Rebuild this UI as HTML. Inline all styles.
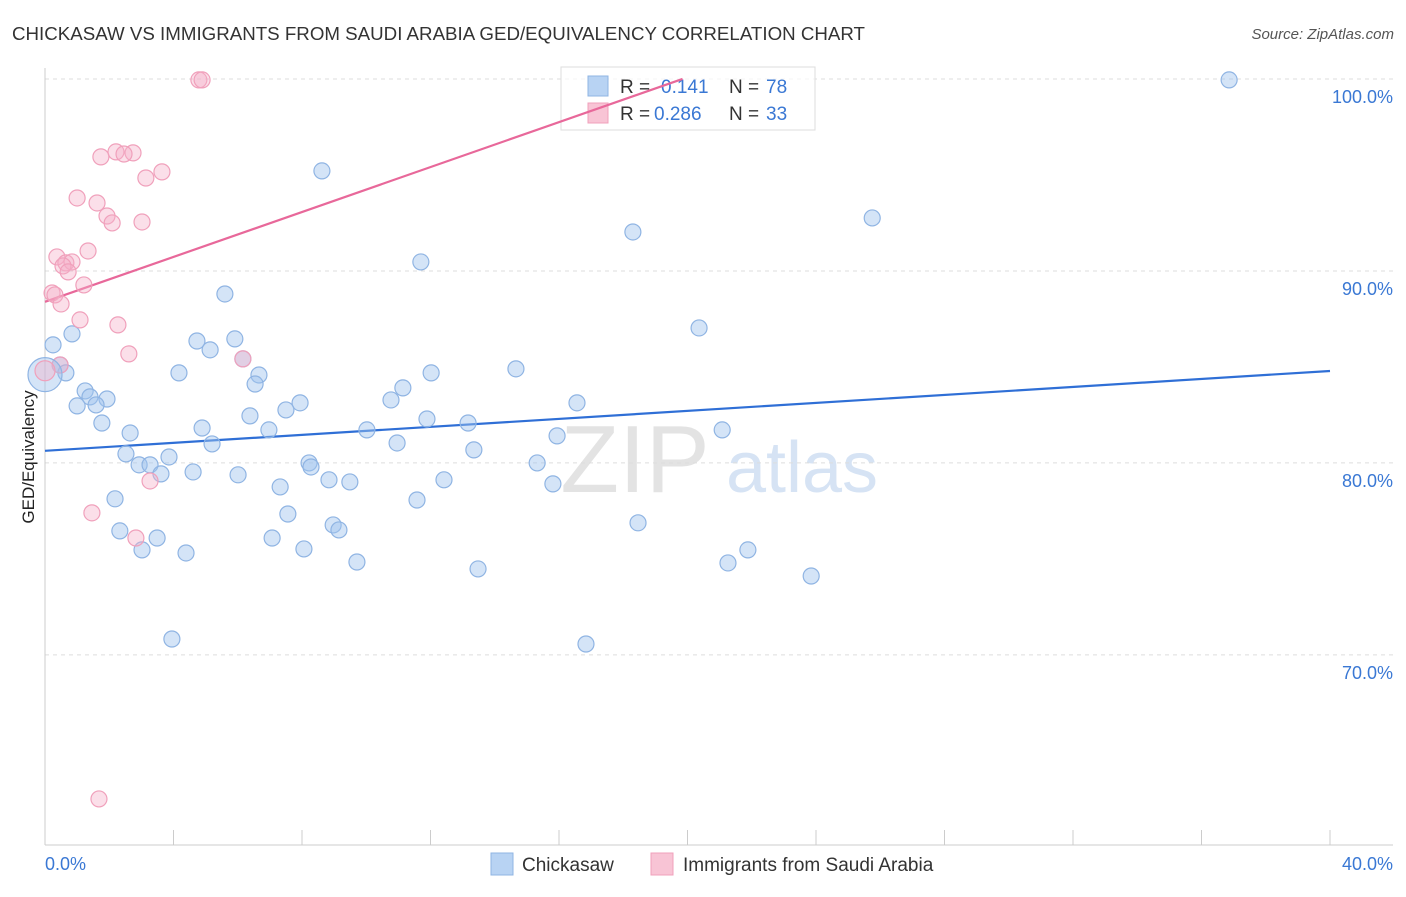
<!DOCTYPE html>
<html><head><meta charset="utf-8"><style>
body{margin:0;background:#fff;font-family:"Liberation Sans",sans-serif;}
svg text{font-family:"Liberation Sans",sans-serif;}
</style></head><body>
<svg id="chart" width="1406" height="892">
<text x="12" y="40" font-size="18" fill="#333" textLength="853" lengthAdjust="spacingAndGlyphs">CHICKASAW VS IMMIGRANTS FROM SAUDI ARABIA GED/EQUIVALENCY CORRELATION CHART</text>
<text x="1394" y="39" font-size="15" fill="#555" text-anchor="end" font-style="italic">Source: ZipAtlas.com</text>
<text transform="translate(34,457) rotate(-90)" font-size="17" fill="#222" text-anchor="middle">GED/Equivalency</text>
<g><text x="635" y="492" font-size="96" fill="#d8d8d8" text-anchor="middle" font-family="Liberation Serif" opacity="0.7">ZIP</text><text x="802" y="492" font-size="72" fill="#c5d8f0" text-anchor="middle" opacity="0.7">atlas</text></g>
<g id="grid"></g><g id="axes"></g>
<g>
<rect x="561" y="67" width="254" height="63" fill="#fff" fill-opacity="0.7" stroke="#ddd"/>
<rect x="588" y="76" width="20" height="20" fill="#b8d3f3" stroke="#8fb4e3"/>
<rect x="588" y="103" width="20" height="20" fill="#f8c4d5" stroke="#f0a0bb"/>
<text x="620" y="93" font-size="19" fill="#333">R = </text><text x="661" y="93" font-size="19" fill="#3a78d4">0.141</text>
<text x="729" y="93" font-size="19" fill="#333">N = </text><text x="766" y="93" font-size="19" fill="#3a78d4">78</text>
<text x="620" y="120" font-size="19" fill="#333">R = </text><text x="654" y="120" font-size="19" fill="#3a78d4">0.286</text>
<text x="729" y="120" font-size="19" fill="#333">N = </text><text x="766" y="120" font-size="19" fill="#3a78d4">33</text>
</g>
<g id="lines"></g><g id="pts"></g>
<g>
<rect x="491" y="853" width="22" height="22" fill="#b8d3f3" stroke="#8fb4e3"/>
<text x="522" y="871" font-size="19" fill="#333">Chickasaw</text>
<rect x="651" y="853" width="22" height="22" fill="#f8c4d5" stroke="#f0a0bb"/>
<text x="683" y="871" font-size="19" fill="#333">Immigrants from Saudi Arabia</text>
</g>
</svg>
<script>
const blueX=[36.86,8.62,25.75,18.30,11.70,5.60,20.36,.84,.25,4.73,5.91,5.14,.47,.65,4.17,6.66,6.16,14.66,12.02,11.14,6.54,1.25,1.93,1.40,1.00,1.59,7.94,7.50,10.77,16.56,6.38,11.89,13.17,1.77,4.89,6.97,10.02,2.65,21.08,15.94,10.96,5.20,13.35,2.52,3.86,2.93,3.27,8.22,8.28,15.32,4.61,3.61,6.01,8.84,9.49,12.42,7.32,15.81,2.18,11.58,7.56,18.46,8.97,9.15,2.33,3.49,7.07,3.02,4.39,8.06,21.88,21.26,9.71,13.48,23.85,3.95,16.84];
const blueY=[99.95,95.21,92.76,92.03,90.47,88.80,87.03,86.72,86.15,86.35,86.46,85.89,85.10,84.69,84.69,84.58,85.42,84.90,84.69,83.91,84.11,83.75,83.33,83.44,82.97,83.02,83.13,82.76,83.28,83.13,82.45,82.29,82.08,82.08,81.82,81.72,81.72,81.56,81.72,81.41,81.04,80.99,80.68,80.47,80.31,79.90,79.90,80.00,79.79,80.00,79.53,79.43,79.38,79.12,79.01,79.12,78.75,78.91,78.13,78.07,77.34,76.88,76.77,76.51,76.46,76.09,76.09,75.47,75.31,75.52,75.47,74.79,74.84,74.48,74.11,70.83,70.57];
const pinkX=[4.79,4.89,2.21,1.74,2.74,2.46,3.64,3.14,1.00,1.62,1.93,2.09,3.02,1.34,.37,.65,.84,.56,.72,1.21,.22,.31,.50,1.09,2.27,2.61,6.16,.47,3.27,1.46,2.83,1.68];
const pinkY=[99.95,99.95,96.20,95.94,96.15,96.09,95.16,94.84,93.80,93.54,92.86,92.50,92.55,91.04,90.73,90.42,90.47,90.26,89.95,89.27,88.85,88.75,88.28,87.45,87.19,85.68,85.42,85.10,79.06,77.40,76.09,62.50];
const yTicks=[100,90,80,70];
const xTickLabels=["0.0%","40.0%"];
const blueLine=[80.63,0.104];
const pinkLine=[88.39,0.585];
const NS="http://www.w3.org/2000/svg";
const X0=45,X1=1330,Y0=845,Y1=68,YMIN=60.1,YMAX=100.57;
const sx=v=>X0+(v/40)*(X1-X0);
const sy=v=>Y0-(v-YMIN)/(YMAX-YMIN)*(Y0-Y1);
function mk(t,a,p){const e=document.createElementNS(NS,t);for(const k in a)e.setAttribute(k,a[k]);p.appendChild(e);return e;}
const grid=document.getElementById('grid'),axes=document.getElementById('axes');
yTicks.forEach(v=>{
 const l=mk('line',{x1:X0,x2:1393,y1:sy(v),y2:sy(v),stroke:'#ddd','stroke-dasharray':'4,4'},grid);
 
 
 const t=mk('text',{x:1393,y:sy(v)+24,'font-size':18,fill:'#3a78d4','text-anchor':'end'},grid);
 t.textContent=v.toFixed(1)+'%';
 
 
});
mk('line',{x1:X0,x2:X0,y1:Y1,y2:Y0,stroke:'#ccc'},axes);
mk('line',{x1:X0,x2:1393,y1:Y0,y2:Y0,stroke:'#ccc'},axes);
for(let i=0;i<=10;i++){const tk=mk('line',{x1:sx(i*4),x2:sx(i*4),y1:830,y2:Y0,stroke:'#ccc'},axes);
 
 }
const t0=mk('text',{x:45,y:870,'font-size':18,fill:'#3a78d4'},axes);t0.textContent=xTickLabels[0];


const t1=mk('text',{x:1393,y:870,'font-size':18,fill:'#3a78d4','text-anchor':'end'},axes);t1.textContent=xTickLabels[1];


const pts=document.getElementById('pts');
function dot(x,y,r,f,s,name){const c=mk('circle',{cx:sx(x),cy:sy(y),r:r,fill:f,stroke:s,'stroke-width':1.2},pts);
 
 }
blueX.forEach((x,i)=>dot(x,blueY[i],8,'rgba(160,195,238,0.45)','#8fb4e3','chickasaw-point'));
pinkX.forEach((x,i)=>dot(x,pinkY[i],8,'rgba(246,175,200,0.4)','#f0a0bb','saudi-point'));
dot(0,84.6,17,'rgba(160,195,238,0.45)','#8fb4e3','chickasaw-point');
dot(0,84.8,10,'rgba(246,175,200,0.4)','#f0a0bb','saudi-point');
const L=document.getElementById('lines');
const bl=mk('line',{x1:sx(0),y1:sy(blueLine[0]),x2:sx(40),y2:sy(blueLine[0]+40*blueLine[1]),stroke:'#2f6fd6','stroke-width':2.2},L);


const xe=(100-pinkLine[0])/pinkLine[1];
const pl=mk('line',{x1:sx(0),y1:sy(pinkLine[0]),x2:sx(xe),y2:sy(100),stroke:'#e8689a','stroke-width':2.2},L);


</script>
</body></html>
